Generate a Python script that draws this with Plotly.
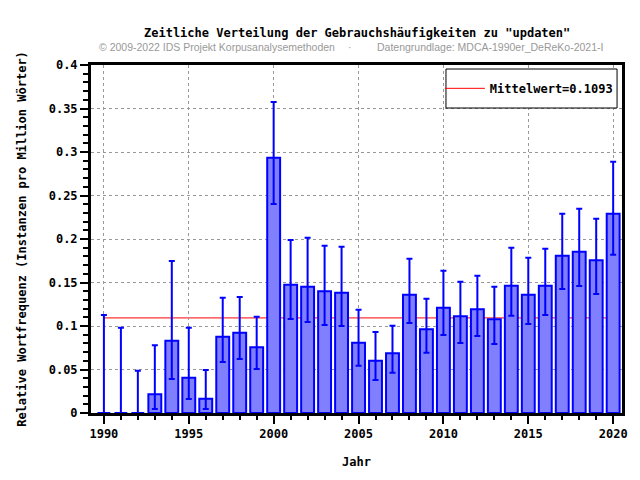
import plotly.graph_objects as go

years = list(range(1990, 2021))
values = [0, 0, 0, 0.0215, 0.083, 0.0406, 0.0165, 0.0877, 0.0923, 0.0755,
          0.2935, 0.1475, 0.1452, 0.1399, 0.1383, 0.0808, 0.0602, 0.0686, 0.136, 0.0962,
          0.121, 0.1111, 0.1192, 0.1077, 0.1464, 0.136, 0.1464, 0.1808, 0.1854, 0.1755,
          0.2291]
upper = [0.1126, 0.098, 0.0487, 0.078, 0.1747, 0.098, 0.0494, 0.1326, 0.1333, 0.1107,
         0.3575, 0.1989, 0.2015, 0.1923, 0.1912, 0.1188, 0.0931, 0.1004, 0.1774, 0.1314,
         0.1636, 0.151, 0.1579, 0.1452, 0.19, 0.1785, 0.1889, 0.2291, 0.2349, 0.2234,
         0.2889]
lower = [0, 0, 0, 0.0046, 0.039, 0.016, 0.0046, 0.0586, 0.062, 0.0506,
         0.2402, 0.108, 0.1046, 0.1011, 0.1, 0.0544, 0.038, 0.0464, 0.1034, 0.0693,
         0.0897, 0.0805, 0.0885, 0.0793, 0.1119, 0.1023, 0.1126, 0.1425, 0.146, 0.1368,
         0.182]
mean_value = 0.1093
mean_label = "Mittelwert=0.1093"

title = 'Zeitliche Verteilung der Gebrauchshäufigkeiten zu "updaten"'
sub_left = "© 2009-2022 IDS Projekt Korpusanalysemethoden"
sub_right = "Datengrundlage: MDCA-1990er_DeReKo-2021-I"
x_title = "Jahr"
y_title = "Relative Wortfrequenz (Instanzen pro Million Wörter)"

mono = dict(family="DejaVu Sans Mono", size=12, color="black", weight="bold")
subfont = dict(family="Liberation Sans", size=10.5, color="#999999", weight="normal")

fig = go.Figure()
# legend-only entry for the mean line (the line itself is drawn below the bars)
fig.add_trace(go.Scatter(
    x=[None, None], y=[None, None], mode="lines",
    line=dict(color="#ff0000", width=1), name=mean_label, showlegend=True))
fig.add_trace(go.Bar(
    x=years, y=values, width=0.76,
    marker=dict(color="#8080ff", line=dict(color="#0000ff", width=2)),
    error_y=dict(type="data", symmetric=False,
                 array=[u - v for u, v in zip(upper, values)],
                 arrayminus=[v - l for v, l in zip(values, lower)],
                 color="#0000ff", thickness=2, width=3),
    showlegend=False))

# page body has an 8px margin: figure is shrunk by 8px and left/top margins shifted accordingly
fig.update_layout(
    width=632, height=472,
    margin=dict(l=81, r=14, t=57, b=67),
    plot_bgcolor="white", paper_bgcolor="white",
    font=mono,
    legend=dict(x=0.657, y=0.933, xanchor="left", yanchor="middle",
                bgcolor="rgba(0,0,0,0)", borderwidth=0,
                font=mono, itemwidth=40),
    shapes=[
        dict(type="line", xref="x", yref="y", x0=years[0], x1=years[-1],
             y0=mean_value, y1=mean_value, line=dict(color="#ff0000", width=1),
             layer="below"),
        dict(type="rect", xref="paper", yref="paper",
             x0=0.6685, x1=0.9907, y0=0.8764, y1=0.9885,
             line=dict(color="black", width=1), fillcolor="white", layer="above"),
    ],
    annotations=[
        dict(text=title, xref="paper", yref="paper", x=0.5, y=1.092,
             xanchor="center", yanchor="middle", showarrow=False, font=mono),
        dict(text=sub_left, xref="paper", yref="paper", x=0.011, y=1.0517,
             xanchor="left", yanchor="middle", showarrow=False, font=subfont),
        dict(text="·", xref="paper", yref="paper", x=0.488, y=1.0517,
             xanchor="center", yanchor="middle", showarrow=False, font=subfont),
        dict(text=sub_right, xref="paper", yref="paper", x=0.5345, y=1.0517,
             xanchor="left", yanchor="middle", showarrow=False, font=subfont),
    ],
)
fig.update_xaxes(
    range=[1989.24, 2020.52], tickmode="linear", tick0=1990, dtick=5,
    ticks="outside", ticklen=8, tickwidth=2, tickcolor="black",
    showline=True, linewidth=3, linecolor="black", mirror=True,
    showgrid=True, gridcolor="#999999", griddash="dot", gridwidth=1,
    zeroline=False, tickfont=mono,
    minor=dict(dtick=1, ticks="outside", ticklen=4, tickwidth=2, tickcolor="black", showgrid=False),
    title=dict(text=x_title, font=mono, standoff=18))
fig.update_yaxes(
    range=[0, 0.4], tickmode="linear", tick0=0, dtick=0.05,
    ticks="outside", ticklen=8, tickwidth=2, tickcolor="black",
    showline=True, linewidth=3, linecolor="black", mirror=True,
    showgrid=True, gridcolor="#999999", griddash="dot", gridwidth=1,
    zeroline=False, tickfont=mono,
    minor=dict(dtick=0.01, ticks="outside", ticklen=5, tickwidth=2, tickcolor="black", showgrid=False),
    title=dict(text=y_title, font=mono, standoff=20))

fig.write_html("out.html")
